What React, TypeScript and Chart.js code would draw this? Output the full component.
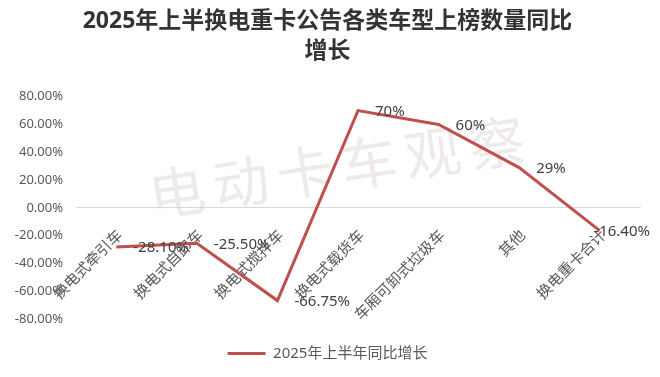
import React, { useEffect, useRef } from "react";
import { Chart, registerables } from "chart.js";

Chart.register(...registerables);

const categories = ["换电式牵引车", "换电式自卸车", "换电式搅拌车", "换电式载货车", "车厢可卸式垃圾车", "其他", "换电重卡合计"];
const growth = [-28.1, -25.5, -66.75, 70, 60, 29, -16.4];
const valueLabels = ["-28.10%", "-25.50%", "-66.75%", "70%", "60%", "29%", "-16.40%"];
const yTicks = [-80, -60, -40, -20, 0, 20, 40, 60, 80];
const titleLines = ["2025年上半换电重卡公告各类车型上榜数量同比", "增长"];
const seriesName = "2025年上半年同比增长";
const watermark = "电动卡车观察";

const FONT = "'Noto Sans', 'Noto Sans CJK SC', sans-serif";
const RED = "#C0504D";

const watermarkPlugin = {
  id: "watermark",
  beforeDatasetsDraw(chart: any) {
    const ctx = chart.ctx;
    ctx.save();
    ctx.font = `56px ${FONT}`;
    ctx.fillStyle = "rgba(212, 202, 202, 0.4)";
    ctx.textAlign = "center";
    ctx.textBaseline = "middle";
    const cx = 337.5;
    const cy = 172.5;
    const ang = -8.7 * Math.PI / 180;
    const step = 64.6;
    const chars = Array.from(watermark);
    const n = chars.length;
    chars.forEach((ch, i) => {
      const d = (i - (n - 1) / 2) * step;
      ctx.save();
      ctx.translate(cx + d * Math.cos(ang), cy + d * Math.sin(ang));
      ctx.rotate(ang);
      ctx.fillText(ch, 0, 0);
      ctx.restore();
    });
    ctx.restore();
  },
};

const dataLabelPlugin = {
  id: "dataLabels",
  afterDatasetsDraw(chart: any) {
    const ctx = chart.ctx;
    const meta = chart.getDatasetMeta(0);
    ctx.save();
    ctx.font = `15px ${FONT}`;
    ctx.fillStyle = "#404040";
    ctx.textAlign = "left";
    ctx.textBaseline = "middle";
    meta.data.forEach((pt: any, i: number) => {
      const txt = valueLabels[i];
      const w = ctx.measureText(txt).width;
      let x = pt.x + 17;
      if (x + w > chart.width - 10) x = chart.width - 10 - w;
      ctx.fillText(txt, x, pt.y + 1);
    });
    ctx.restore();
  },
};

const legendShiftPlugin = {
  id: "legendShift",
  afterLayout(chart: any) {
    const lg = chart.legend;
    if (lg) {
      lg.top += 17;
      lg.bottom += 17;
    }
  },
};

export default function App() {
  const ref = useRef<HTMLCanvasElement | null>(null);
  useEffect(() => {
    if (!ref.current) return;
    const chart = new Chart(ref.current, {
      type: "line",
      data: {
        labels: categories,
        datasets: [
          {
            label: seriesName,
            data: growth,
            borderColor: RED,
            backgroundColor: RED,
            borderWidth: 3,
            pointRadius: 0,
            pointHoverRadius: 0,
            tension: 0,
          },
        ],
      },
      options: {
        responsive: false,
        animation: false,
        layout: { padding: { left: 15, right: 20, top: 0, bottom: 23 } },
        plugins: {
          title: {
            display: true,
            text: titleLines,
            color: "#333333",
            font: { size: 23, weight: "bold", family: FONT, lineHeight: 1.32 },
            padding: { top: 6, bottom: 30 },
          },
          legend: {
            position: "bottom",
            labels: {
              boxWidth: 38,
              boxHeight: 3,
              color: "#595959",
              font: { size: 15, family: FONT },
              padding: 10,
              generateLabels: () => [
                {
                  text: seriesName,
                  fillStyle: RED,
                  strokeStyle: RED,
                  lineWidth: 0,
                  fontColor: "#595959",
                  datasetIndex: 0,
                  hidden: false,
                },
              ],
            },
          },
          tooltip: { enabled: false },
        },
        scales: {
          x: {
            type: "category",
            position: { y: 0 } as any,
            offset: true,
            grid: { display: false },
            border: { display: true, color: "#d9d9d9", width: 1 },
            afterFit: (scale: any) => {
              scale.paddingLeft = 0;
              scale.paddingRight = 0;
            },
            ticks: {
              autoSkip: false,
              minRotation: 45,
              maxRotation: 45,
              color: "#595959",
              font: { size: 15, family: FONT },
              padding: 11,
              labelOffset: 4,
            },
          },
          y: {
            min: -80,
            max: 80,
            afterBuildTicks: (axis: any) => {
              axis.ticks = yTicks.map((v) => ({ value: v }));
            },
            afterFit: (scale: any) => {
              scale.width = 61;
            },
            grid: { display: false, drawTicks: false },
            border: { display: false },
            ticks: {
              color: "#595959",
              font: { size: 13, family: FONT },
              padding: 13,
              callback: (v: any) => Number(v).toFixed(2) + "%",
            },
          },
        },
      },
      plugins: [watermarkPlugin, dataLabelPlugin, legendShiftPlugin],
    });
    return () => chart.destroy();
  }, []);
  return (
    <div style={{ position: "fixed", left: 0, top: 0, width: 660, height: 377, background: "#fff" }}>
      <canvas ref={ref} width={660} height={377} />
    </div>
  );
}
